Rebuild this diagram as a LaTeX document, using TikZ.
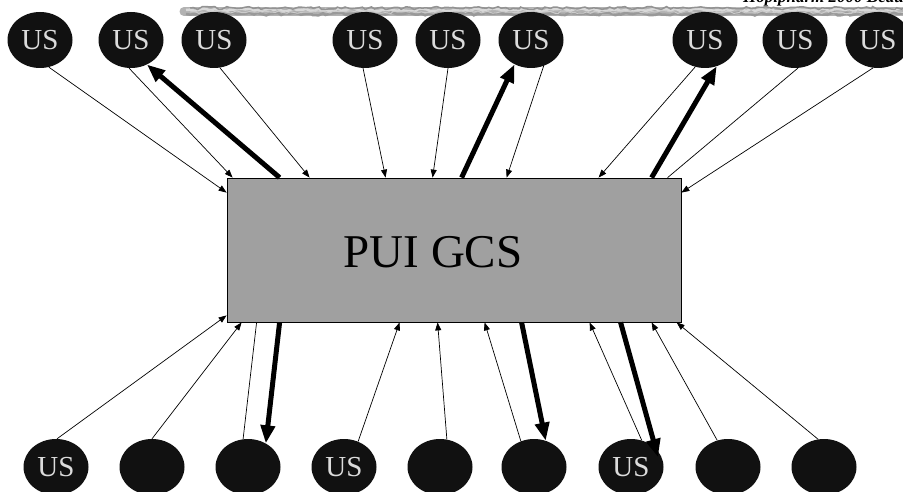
\documentclass[tikz,border=0pt]{standalone}
\usepackage{fontspec}
\setmainfont{Liberation Serif}
\usetikzlibrary{shapes.geometric,arrows.meta,calc,decorations.pathmorphing}
\definecolor{blob}{HTML}{111111}
\definecolor{ustext}{HTML}{DCDCDC}
\definecolor{boxgray}{HTML}{A0A0A0}
\begin{document}
\begin{tikzpicture}[x=1pt,y=-1pt,
  usnode/.style={ellipse, fill=blob, minimum width=65pt, minimum height=56pt, inner sep=0pt, text=ustext, font=\fontsize{29}{29}\selectfont},
  thinarr/.style={line width=0.7pt, -{Triangle[length=8pt,width=6pt]}},
  thickarr/.style={line width=5pt, -{Triangle[length=18pt,width=14pt]}},
  plainln/.style={line width=0.7pt},
  band/.style={decorate, decoration={random steps, segment length=4pt, amplitude=1.5pt}}]
\useasboundingbox (0,0) rectangle (903,492);
\clip (0,0) rectangle (903,492);
\pgfmathsetseed{7}
% header text and rough band
\node[anchor=base west, inner sep=0pt, font=\fontsize{17}{17}\selectfont\bfseries\itshape] (hdr) at (743,3) {Hopipharm 2000 Beaune};
\draw[line width=9pt, gray!60, line cap=round] (184,11.5) -- (910,11.5);
\draw[band, line width=2.5pt, gray!30] (186,10) -- (910,10);
\draw[band, line width=2.5pt, gray!80] (186,14) -- (910,14);
\draw[band, line width=1.5pt, gray!85] (190,8) -- (910,8);
\draw[band, line width=1pt, gray!40] (190,12) -- (910,12);
% top nodes
\foreach \x [count=\i] in {40,131,214,365,448,531,705,795,878}
  \node[usnode] (t\i) at (\x,40) {US};
% bottom nodes
\foreach \x/\t [count=\i] in {56/US,152/,248/,344/US,440/,534/,631/US,728/,824/}
  \node[usnode] (b\i) at (\x,467) {\t};
% central box
\node[draw=black, line width=0.8pt, fill=boxgray, minimum width=454pt, minimum height=144pt, inner sep=0pt] (g) at (454,250) {};
\node[anchor=base, inner sep=0pt, font=\fontsize{47}{47}\selectfont] (lbl) at (433,267) {PUI GCS};
% top connectors
\draw[thinarr] (t1.-72) -- ($(g.north west)+(0,15)$);
\draw[thinarr] (t2.-94) -- ($(g.north west)+(6,0)$);
\draw[thickarr] ($(g.north west)+(53,0)$) -- (t2.-57);
\draw[thinarr] (t3.-78) -- ($(g.north west)+(83,0)$);
\draw[thinarr] (t4.-94) -- ($(g.north west)+(159,0)$);
\draw[thinarr] (t5.-90) -- ($(g.north west)+(206,0)$);
\draw[thickarr] ($(g.north west)+(235,0)$) -- (t6.-124);
\draw[thinarr] (t6.-64) -- ($(g.north west)+(280,0)$);
\draw[thinarr] (t7.-110) -- ($(g.north west)+(372,0)$);
\draw[thickarr] ($(g.north west)+(425,0)$) -- (t7.-66);
\draw[plainln] (t8.-84) -- ($(g.north west)+(441,0)$);
\draw[thinarr] (t9.-100) -- ($(g.north east)+(0,15)$);
% bottom connectors
\draw[thinarr] (b1.88) -- ($(g.south west)+(0,-7)$);
\draw[thinarr] (b2.90) -- ($(g.south west)+(15,0)$);
\draw[plainln] (b3.100) -- ($(g.south west)+(30,0)$);
\draw[thickarr] ($(g.south west)+(53,0)$) -- (b3.53);
\draw[thinarr] (b4.61) -- ($(g.south west)+(173,0)$);
\draw[thinarr] (b5.76) -- ($(g.south west)+(211,0)$);
\draw[thinarr] (b6.117) -- ($(g.south west)+(258,0)$);
\draw[thickarr] ($(g.south west)+(295,0)$) -- (b6.66);
\draw[thinarr] (b7.68) -- ($(g.south west)+(363,0)$);
\draw[thickarr] ($(g.south west)+(394,0)$) -- ($(b7)+(27,-10)$);
\draw[thinarr] (b8.112) -- ($(g.south west)+(425,0)$);
\draw[thinarr] (b9.102) -- ($(g.south west)+(450,0)$);
\end{tikzpicture}
\end{document}
